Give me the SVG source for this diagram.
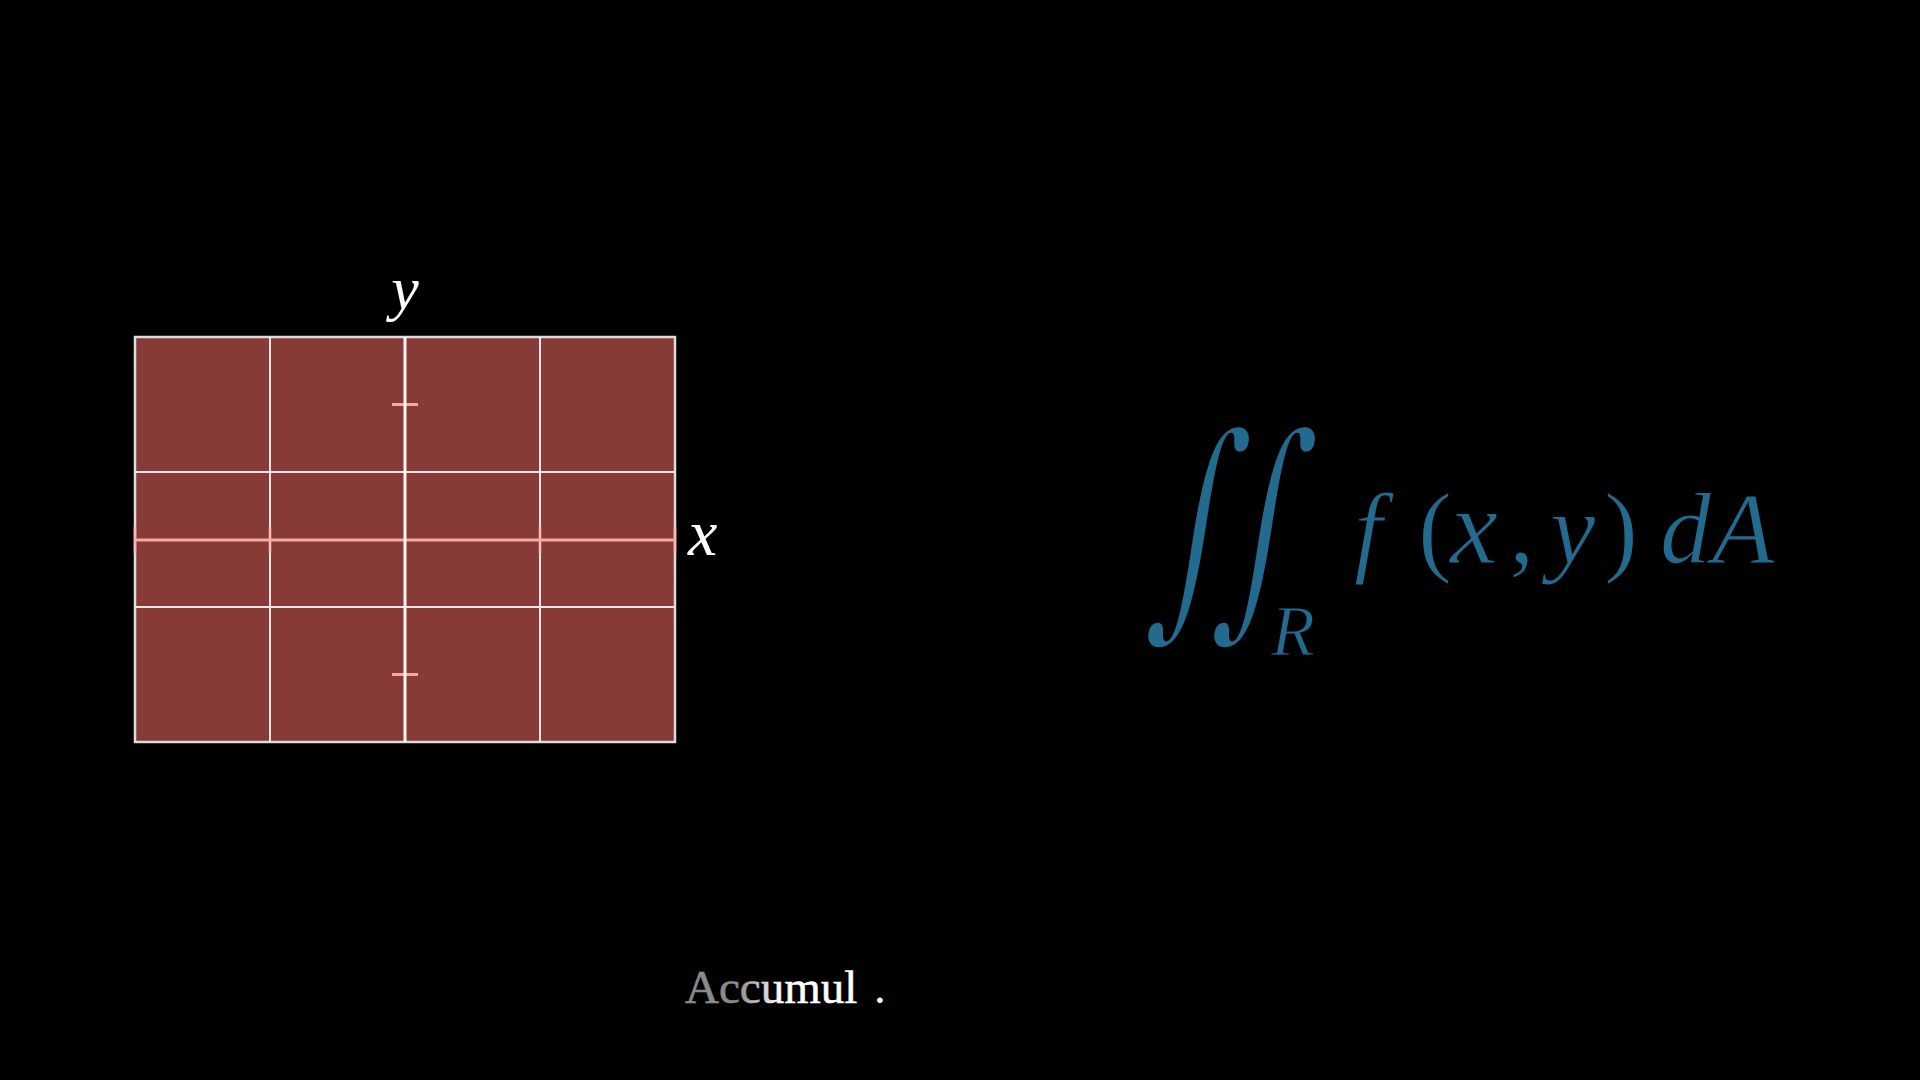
<svg xmlns="http://www.w3.org/2000/svg" width="1920" height="1080" viewBox="0 0 1920 1080">
<defs>
<style>
.grid{stroke:#f2e6e6;stroke-width:2;fill:none}
.axis{stroke:#fca5a5;stroke-width:3;fill:none}
.tick{stroke:#fca5a5;stroke-width:3;fill:none}
.lab{font-family:"Liberation Serif","DejaVu Serif",serif;font-style:italic;fill:#ffffff}
.math{font-family:"Liberation Serif","DejaVu Serif",serif;font-style:italic;fill:#236b8e;stroke:#000;stroke-width:1.2}
.up{font-style:normal}
.integ{font-family:"DejaVu Serif","Liberation Serif",serif;fill:#236b8e;stroke:#000000;stroke-width:7}
</style>
<linearGradient id="fade" gradientUnits="userSpaceOnUse" x1="685" y1="0" x2="860" y2="0">
<stop offset="0" stop-color="#8a8a8a"/>
<stop offset="0.3" stop-color="#8a8a8a"/>
<stop offset="0.55" stop-color="#ffffff"/>
<stop offset="1" stop-color="#ffffff"/>
</linearGradient>
</defs>
<rect width="1920" height="1080" fill="#000000"/>
<g id="region">
<rect x="135" y="337" width="540" height="405" fill="#883a36" stroke="#dcdcdc" stroke-width="2.5"/>
</g>
<g id="grid">
<line class="grid" x1="270" y1="337" x2="270" y2="742"/>
<line class="grid" x1="540" y1="337" x2="540" y2="742"/>
<line class="grid" x1="135" y1="472" x2="675" y2="472"/>
<line class="grid" x1="135" y1="607" x2="675" y2="607"/>
</g>
<g id="axes">
<line class="axis" x1="135" y1="540" x2="675" y2="540"/>
<line class="tick" x1="135" y1="527" x2="135" y2="553" opacity="0.6"/>
<line class="tick" x1="270" y1="527" x2="270" y2="553" opacity="0.6"/>
<line class="tick" x1="540" y1="527" x2="540" y2="553" opacity="0.6"/>
<line class="tick" x1="675" y1="527" x2="675" y2="553" opacity="0.6"/>
<line class="tick" x1="392" y1="404.5" x2="418" y2="404.5"/>
<line class="tick" x1="392" y1="674.5" x2="418" y2="674.5"/>
<line x1="405" y1="337" x2="405" y2="742" stroke="#fff4f4" stroke-width="3"/>
<text class="lab" x="405" y="309" font-size="62" text-anchor="middle">y</text>
<text class="lab" x="688" y="555" font-size="66">x</text>
</g>
<g id="formula">
<text class="integ" transform="translate(1146,607) skewX(-8) scale(0.68,1)" x="0" y="0" font-size="242">∫</text>
<text class="integ" transform="translate(1212,607) skewX(-8) scale(0.68,1)" x="0" y="0" font-size="242">∫</text>
<text class="math" x="1271" y="655" font-size="72">R</text>
<text class="math" x="1354" y="563" font-size="102">f</text>
<text class="math up" x="1418" y="563" font-size="102">(</text>
<text class="math" x="1450" y="563" font-size="108">x</text>
<text class="math up" x="1509" y="563" font-size="102">,</text>
<text class="math" x="1550" y="563" font-size="102">y</text>
<text class="math up" x="1604" y="563" font-size="102">)</text>
<text class="math" x="1660" y="563" font-size="102">d</text>
<text class="math" x="1712" y="563" font-size="102">A</text>
</g>
<g id="caption">
<text x="685" y="1003" font-family="Liberation Serif, serif" font-size="47" fill="url(#fade)" stroke="url(#fade)" stroke-width="0.6">Accumul</text>
<text x="874" y="1003" font-family="Liberation Serif, serif" font-size="47" fill="#ffffff">.</text>
</g>
</svg>
